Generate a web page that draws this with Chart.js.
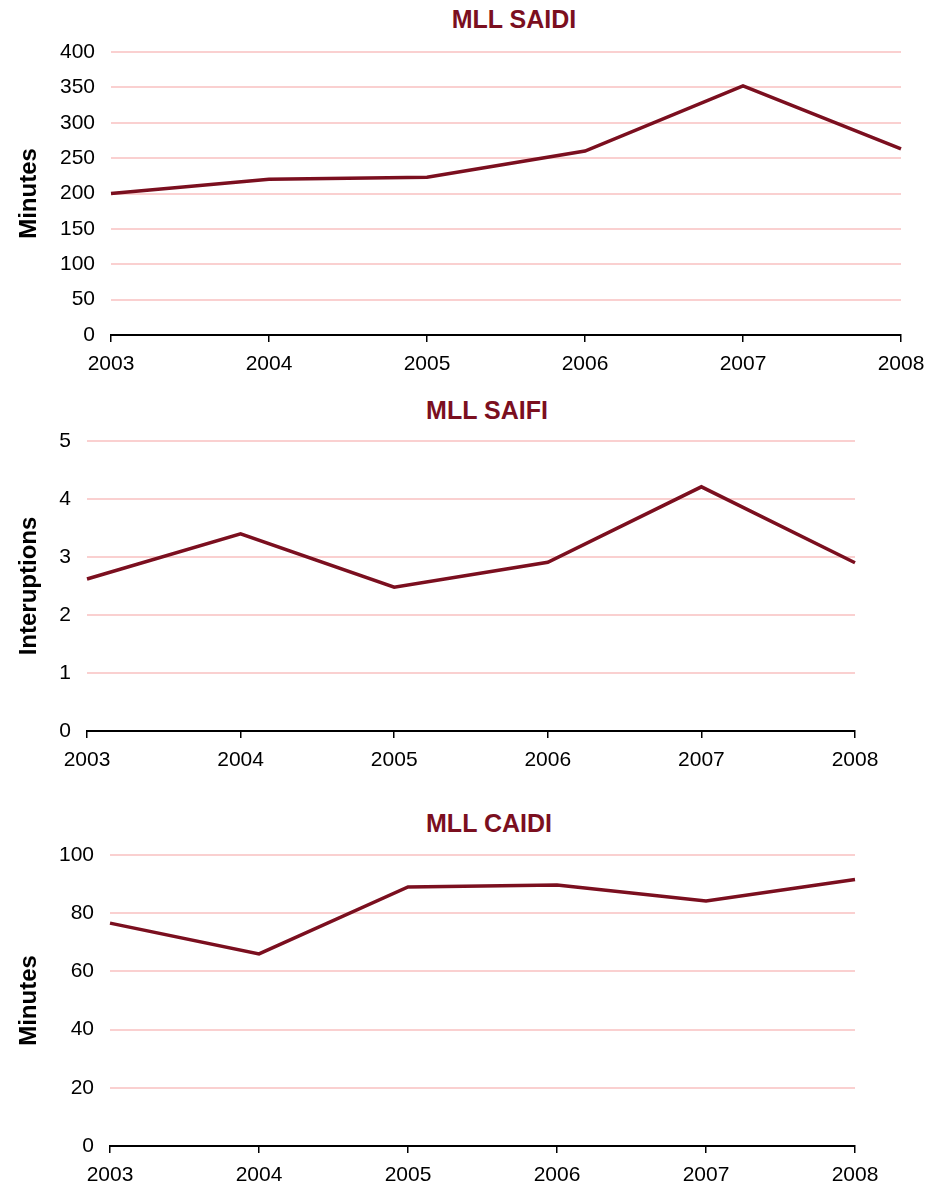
<!DOCTYPE html>
<html>
<head>
<meta charset="utf-8">
<title>MLL SAIDI / SAIFI / CAIDI</title>
<script src="https://cdn.jsdelivr.net/npm/chart.js@4/dist/chart.umd.min.js"></script>
<style>
  body { margin: 0; background: #fff; width: 938px; height: 1184px; position: relative; overflow: hidden; }
  canvas { position: absolute; left: 0; }
  .titolo {
    position: absolute; width: 300px; text-align: center;
    font: bold 25px "Liberation Sans", Arial, sans-serif; line-height: 28px;
    color: #7b0f1f;
  }
</style>
</head>
<body>
<div class="titolo" id="t1" style="left:364px; top:5px;">MLL SAIDI</div>
<canvas id="saidi" width="938" height="363" style="top:22px"></canvas>

<div class="titolo" id="t2" style="left:337px; top:396px;">MLL SAIFI</div>
<canvas id="saifi" width="938" height="369" style="top:411px"></canvas>

<div class="titolo" id="t3" style="left:339px; top:809px;">MLL CAIDI</div>
<canvas id="caidi" width="938" height="359" style="top:825px"></canvas>

<script>
// anni sull'asse x (uguali per i tre grafici)
var anni = ["2003", "2004", "2005", "2006", "2007", "2008"];

// valori
var saidi = [200, 220, 223, 260, 352, 263];      // minuti
var saifi = [2.62, 3.40, 2.48, 2.91, 4.21, 2.90]; // interruzioni
var caidi = [76.6, 66, 89, 89.7, 84.2, 91.6];     // minuti

// scale y
var saidiMax = 400, saidiStep = 50;
var saifiMax = 5, saifiStep = 1;
var caidiMax = 100, caidiStep = 20;

var rosso = "#7b0f1f";
var rosa = "#fad0d0";
var font = "'Liberation Sans', Arial, sans-serif";

function grafico(id, valori, max, step, titoloY, box) {
  var ctx = document.getElementById(id);
  var h = ctx.height;
  return new Chart(ctx, {
    type: 'line',
    data: {
      labels: anni,
      datasets: [{
        data: valori,
        borderColor: rosso,
        borderWidth: 3.5,
        pointRadius: 0,
        tension: 0,
        fill: false
      }]
    },
    options: {
      responsive: false,
      animation: false,
      devicePixelRatio: 1,
      layout: {
        padding: { left: 0, right: 938 - box.right, top: box.top, bottom: 0 }
      },
      plugins: {
        legend: { display: false },
        tooltip: { enabled: false }
      },
      scales: {
        x: {
          offset: false,
          grid: {
            display: true,
            drawOnChartArea: false,
            drawTicks: true,
            tickLength: 7,
            color: "#000",
            lineWidth: 1.5
          },
          border: { display: true, color: "#000", width: 2 },
          ticks: {
            color: "#000",
            font: { family: font, size: 21 },
            padding: 10,
            maxRotation: 0,
            autoSkip: false
          },
          afterFit: function(s) { s.height = h - box.bottom; }
        },
        y: {
          min: 0,
          max: max,
          border: { display: false },
          grid: {
            drawTicks: false,
            lineWidth: 2,
            color: function(c) { return c.tick && c.tick.value === 0 ? "rgba(0,0,0,0)" : rosa; }
          },
          ticks: {
            stepSize: step,
            color: "#000",
            font: { family: font, size: 21 },
            padding: 16
          },
          title: {
            display: true,
            text: titoloY,
            color: "#000",
            font: { family: font, size: 24, weight: "bold" },
            padding: { top: 15, bottom: 0 }
          },
          afterFit: function(s) { s.width = box.left; }
        }
      }
    }
  });
}

function init() {
  // box: bordi dell'area del grafico dentro ogni canvas
  grafico("saidi", saidi, saidiMax, saidiStep, "Minutes", { left: 111, right: 901, top: 30, bottom: 313 });
  grafico("saifi", saifi, saifiMax, saifiStep, "Interuptions", { left: 87, right: 855, top: 30, bottom: 320 });
  grafico("caidi", caidi, caidiMax, caidiStep, "Minutes", { left: 110, right: 855, top: 30, bottom: 321 });
}

init();
</script>
</body>
</html>
